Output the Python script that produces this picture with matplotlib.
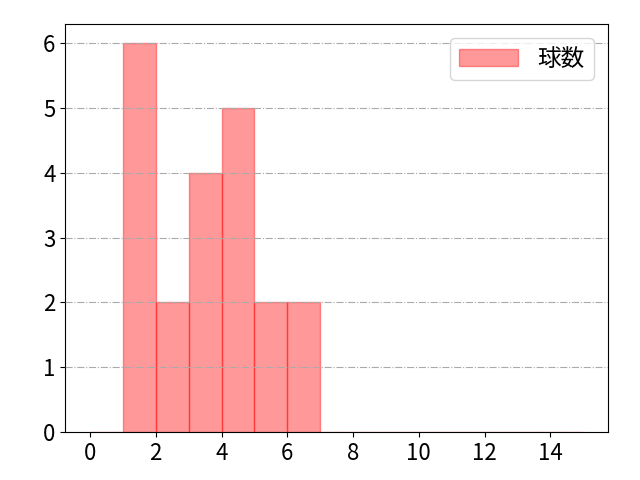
import matplotlib
matplotlib.use('Agg')
from matplotlib import pyplot as plt
import numpy as np

plt.rcParams['font.family'] = ['Noto Sans CJK JP', 'DejaVu Sans']
plt.rcParams['font.size'] = 16

# 球数の分布 (ビン左端と件数)
bin_edges = list(range(0, 16))
bin_left = [1, 2, 3, 4, 5, 6]
counts = [6, 2, 4, 5, 2, 2]

fig, ax = plt.subplots(figsize=(6.4, 4.8), dpi=100)
ax.hist(bin_left, bins=bin_edges, weights=counts, color='red', alpha=0.4,
        edgecolor='red', label='球数')
ax.set_axisbelow(False)
ax.grid(axis='y', linestyle='-.', color='#aaaaaa', linewidth=0.8)
ax.set_xlim(-0.75, 15.75)
ax.set_ylim(0, 6.3)
ax.set_xticks(range(0, 16, 2))
ax.legend(loc='upper right', fontsize=17, borderaxespad=0.6, handlelength=2.5)
fig.subplots_adjust(left=0.102, right=0.95, top=0.95, bottom=0.1)
fig.savefig('out.png')
